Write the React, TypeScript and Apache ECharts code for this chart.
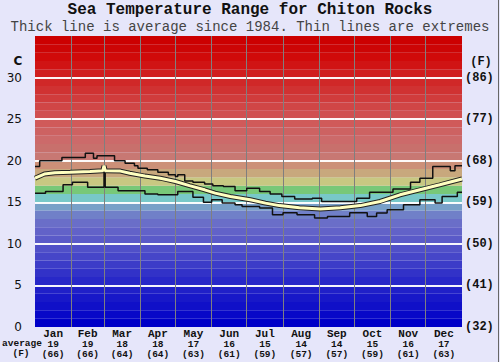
import React, { useEffect, useRef } from "react";
import * as echarts from "echarts";

const months = ["Jan", "Feb", "Mar", "Apr", "May", "Jun", "Jul", "Aug", "Sep", "Oct", "Nov", "Dec"];
const monthAvgC = [19, 19, 18, 18, 17, 16, 15, 14, 14, 15, 16, 17];
const monthAvgF = [66, 66, 64, 64, 63, 61, 59, 57, 57, 59, 61, 63];
const monthStarts = [31, 59, 90, 120, 151, 181, 212, 243, 273, 304, 334];
const monthMids = [15.5, 45, 74.5, 105, 135.5, 166, 196.5, 227.5, 258, 288.5, 319, 349.5];
const yTicksC = [0, 5, 10, 15, 20, 25, 30];
const yTicksF = [32, 41, 50, 59, 68, 77, 86];

// [day of year, °C]
const avgTemp: [number, number][] = [
  [0, 17.9], [8, 18.4], [17, 18.55], [30, 18.6], [47, 18.7], [58, 18.8], [59, 19.4], [60, 18.8],
  [73, 18.75], [81, 18.5], [94, 18.15], [107, 17.9], [120, 17.5], [132, 17.0], [145, 16.5],
  [154, 16.1], [167, 15.7], [184, 15.3], [197, 14.9], [209, 14.6], [226, 14.35], [244, 14.2],
  [261, 14.35], [278, 14.6], [295, 15.1], [312, 15.9], [329, 16.5], [346, 17.1], [365, 17.8],
];

const maxTemp: [number, number][] = [
  [0, 19.3], [4, 20.0], [23, 20.4], [43, 20.9], [50, 20.3], [53, 20.6], [68, 20.0], [77, 19.7],
  [85, 19.4], [88, 19.1], [96, 18.9], [105, 18.6], [114, 18.3], [120, 18.1], [122, 18.3],
  [128, 17.55], [135, 17.4], [145, 17.2], [152, 17.0], [161, 16.9], [171, 16.4], [181, 16.7],
  [192, 16.3], [201, 16.0], [211, 15.7], [222, 15.4], [237, 15.5], [245, 15.1], [275, 15.5],
  [286, 16.2], [306, 16.6], [321, 17.4], [329, 17.9], [340, 19.3], [355, 18.8], [359, 19.4],
  [365, 19.4],
];

const minTemp: [number, number][] = [
  [0, 16.1], [9, 16.3], [24, 17.1], [32, 17.4], [45, 16.8], [59, 18.8], [60, 16.8], [71, 16.4],
  [94, 16.0], [105, 15.9], [122, 16.3], [135, 15.6], [144, 15.0], [151, 15.3], [160, 14.9],
  [171, 14.7], [177, 14.5], [192, 14.3], [203, 13.5], [212, 13.75], [224, 13.5], [239, 13.1],
  [250, 13.3], [269, 13.75], [284, 13.3], [292, 13.7], [301, 14.1], [315, 14.7], [329, 15.3],
  [342, 14.9], [348, 15.7], [361, 16.2], [365, 16.2],
];

// background band colours, one per degree from 0 to 35
const bandColors = [
  "#0000c8", "#0808c8", "#1010c8", "#1818c8", "#2020c8", "#2828c8", "#3232c8", "#3c3cc8",
  "#4646c8", "#5050c8", "#5a5ac8", "#6262c8", "#6a6ec8", "#7080c8", "#78a0c8", "#78c8c8",
  "#78c878", "#c8c882", "#c8a87d", "#cc9078", "#c87873", "#c8706c", "#cc6a6a", "#cd6262",
  "#d05a5a", "#d05050", "#d04646", "#d03c3c", "#d03232", "#d02828", "#d01e1e", "#d01414",
  "#d00a0a", "#cc0505", "#cc0000",
];

const MONO = "'Liberation Mono', 'DejaVu Sans Mono', monospace";

export default function App() {
  const ref = useRef<HTMLDivElement>(null);
  useEffect(() => {
    const chart = echarts.init(ref.current!, null, { renderer: "svg" });
    const bandData = bandColors.map((c, i) => [
      { xAxis: 0, yAxis: i, itemStyle: { color: c, opacity: 1 } },
      { xAxis: 365, yAxis: i + 1 },
    ]);
    const gridLines = [
      ...yTicksC.filter((v) => v > 0).map((v) => ({
        yAxis: v,
        lineStyle: { color: "#ffffff", width: 2, type: "solid", opacity: 0.95 },
      })),
      ...monthStarts.map((d) => ({
        xAxis: d,
        lineStyle: { color: "#7f7f7f", width: 1, type: "solid", opacity: 1 },
      })),
    ];
    chart.setOption({
      animation: false,
      backgroundColor: "#e6e6fa",
      grid: { left: 35, right: 38, top: 36, bottom: 35, containLabel: false },
      xAxis: {
        type: "value",
        min: 0,
        max: 365,
        axisLine: { show: false },
        axisTick: { show: false },
        splitLine: { show: false },
        axisLabel: {
          customValues: monthMids,
          margin: 1,
          formatter: (v: number) => {
            const i = monthMids.indexOf(v);
            if (i < 0) return "";
            return `{m|${months[i]}}\n{c|${monthAvgC[i]}}\n{f|(${monthAvgF[i]})}`;
          },
          rich: {
            m: { fontFamily: MONO, fontWeight: "bold", fontSize: 11, lineHeight: 11, color: "#111" },
            c: { fontFamily: MONO, fontWeight: "bold", fontSize: 9.5, lineHeight: 10, color: "#111" },
            f: { fontFamily: MONO, fontWeight: "bold", fontSize: 9.5, lineHeight: 10, color: "#111" },
          },
        },
      },
      yAxis: [
        {
          type: "value",
          min: 0,
          max: 35,
          interval: 5,
          position: "left",
          axisLine: { show: false },
          axisTick: { show: false },
          splitLine: { show: false },
          axisLabel: {
            margin: 13,
            fontFamily: "'DejaVu Sans', sans-serif",
            fontSize: 12,
            color: "#111",
            formatter: (v: number) => (yTicksC.indexOf(v) >= 0 ? String(v) : ""),
          },
        },
        {
          type: "value",
          min: 0,
          max: 35,
          interval: 5,
          position: "right",
          axisLine: { show: false },
          axisTick: { show: false },
          splitLine: { show: false },
          axisLabel: {
            margin: 3,
            fontFamily: MONO,
            fontWeight: "bold",
            fontSize: 12,
            color: "#111",
            formatter: (v: number) => {
              const i = yTicksC.indexOf(v);
              return i >= 0 ? `(${yTicksF[i]})` : "";
            },
          },
        },
      ],
      graphic: [
        {
          type: "text",
          left: "center",
          top: 2,
          style: { text: "Sea Temperature Range for Chiton Rocks", font: `bold 16px ${MONO}`, fill: "#111" },
        },
        {
          type: "text",
          left: "center",
          top: 19.5,
          style: { text: "Thick line is average since 1984. Thin lines are extremes", font: `14px ${MONO}`, fill: "#444" },
        },
        {
          type: "text",
          x: 18,
          y: 61,
          style: { text: "C", font: "bold 12px 'DejaVu Sans', sans-serif", fill: "#111", align: "center", verticalAlign: "middle" },
        },
        {
          type: "text",
          x: 481,
          y: 62,
          style: { text: "(F)", font: `bold 12px ${MONO}`, fill: "#111", align: "center", verticalAlign: "middle" },
        },
        {
          type: "text",
          x: 22,
          y: 343,
          style: { text: "average", font: `bold 9.5px ${MONO}`, fill: "#111", align: "center", verticalAlign: "middle" },
        },
        {
          type: "text",
          x: 21,
          y: 353,
          style: { text: "(F)", font: `bold 9.5px ${MONO}`, fill: "#111", align: "center", verticalAlign: "middle" },
        },
        {
          type: "line",
          shape: { x1: 498.5, y1: 0, x2: 498.5, y2: 362 },
          style: { stroke: "#666", lineWidth: 1 },
        },
      ],
      series: [
        {
          type: "line",
          data: avgTemp,
          symbol: "none",
          silent: true,
          z: 1,
          lineStyle: { width: 0, opacity: 0 },
          markArea: { silent: true, z: 1, label: { show: false }, data: bandData },
        },
        {
          type: "line",
          data: avgTemp,
          symbol: "none",
          silent: true,
          z: 2,
          lineStyle: { width: 0, opacity: 0 },
          markLine: {
            silent: true,
            z: 2,
            symbol: "none",
            label: { show: false },
            data: gridLines,
          },
        },
        {
          name: "max",
          type: "line",
          data: maxTemp,
          step: "end",
          symbol: "none",
          silent: true,
          z: 9,
          lineStyle: { color: "#111", width: 1.5 },
        },
        {
          name: "min",
          type: "line",
          data: minTemp,
          step: "end",
          symbol: "none",
          silent: true,
          z: 9,
          lineStyle: { color: "#111", width: 1.5 },
        },
        {
          name: "avgOutline",
          type: "line",
          data: avgTemp,
          symbol: "none",
          silent: true,
          z: 10,
          lineStyle: { color: "#222", width: 5 },
        },
        {
          name: "avg",
          type: "line",
          data: avgTemp,
          symbol: "none",
          silent: true,
          z: 11,
          lineStyle: { color: "#ffffc0", width: 3 },
        },
      ],
    });
    return () => chart.dispose();
  }, []);
  return <div ref={ref} style={{ position: "fixed", left: 0, top: 0, width: 500, height: 362 }} />;
}
